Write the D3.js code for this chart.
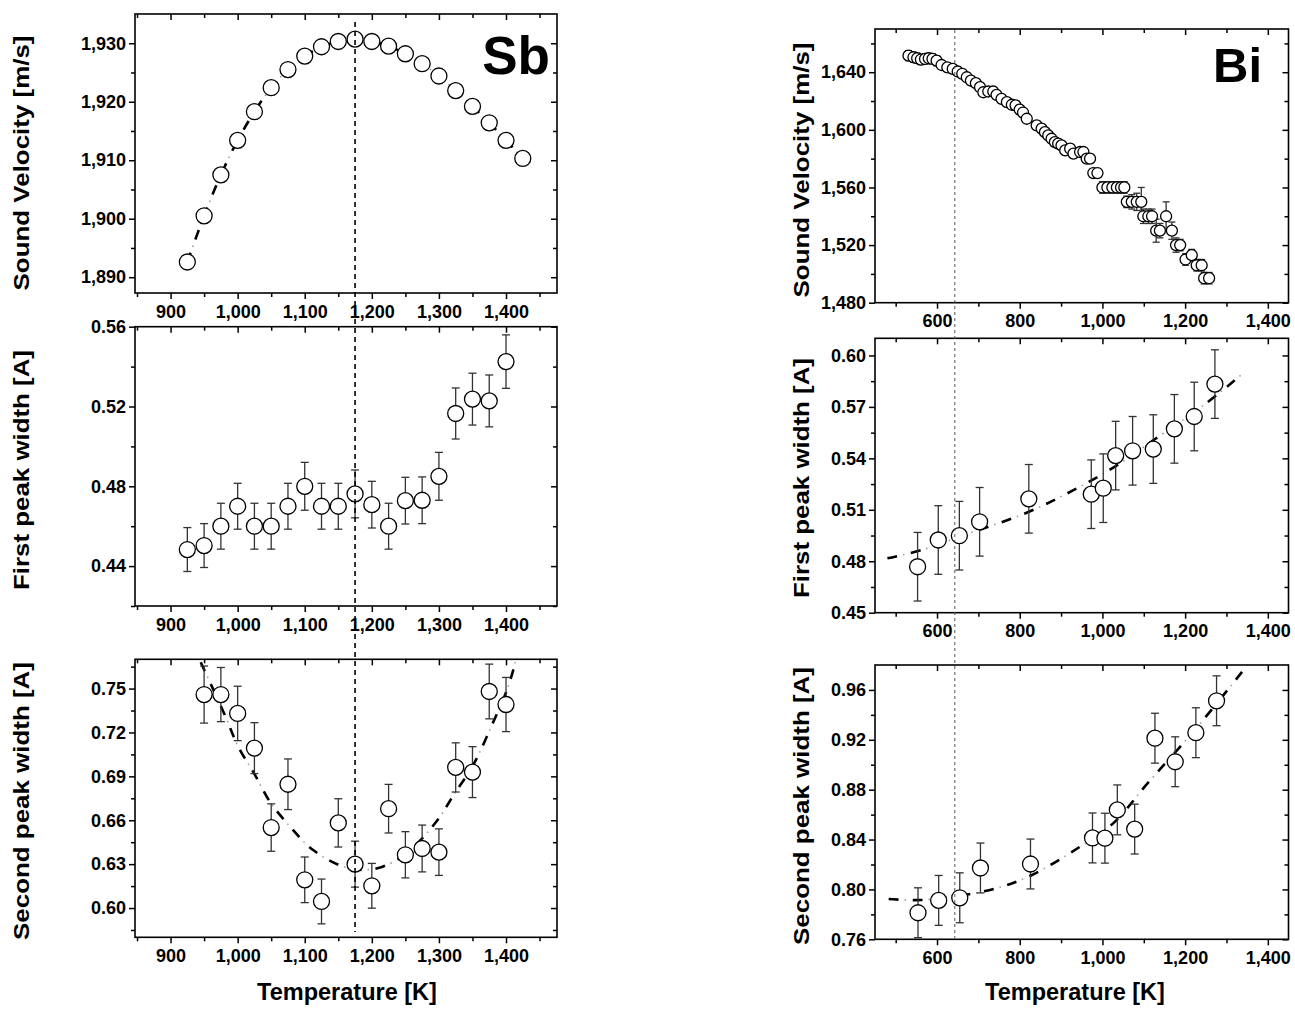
<!DOCTYPE html>
<html>
<head>
<meta charset="utf-8">
<script src="https://cdn.jsdelivr.net/npm/d3@7"></script>
<style>
body { margin: 0; background: #fff; }
text { font-family: "Liberation Sans", Arial, Helvetica, sans-serif; font-weight: bold; }
</style>
</head>
<body>
<div id="vis"></div>
<script>
// ---- Sb data ----
var sbVelT = [925, 950, 975, 1000, 1025, 1050, 1075, 1100, 1125, 1150, 1175, 1200, 1225, 1250, 1275, 1300, 1325, 1350, 1375, 1400, 1425];
var sbVel  = [1892.6, 1900.5, 1907.5, 1913.4, 1918.3, 1922.4, 1925.5, 1927.8, 1929.4, 1930.3, 1930.7, 1930.3, 1929.5, 1928.2, 1926.5, 1924.4, 1921.9, 1919.2, 1916.4, 1913.4, 1910.3];

var sbFirstT   = [925, 950, 975, 1000, 1025, 1050, 1075, 1100, 1125, 1150, 1175, 1200, 1225, 1250, 1275, 1300, 1325, 1350, 1375, 1400];
var sbFirst    = [0.4483, 0.4503, 0.460, 0.470, 0.460, 0.460, 0.470, 0.480, 0.470, 0.470, 0.4762, 0.4708, 0.460, 0.4728, 0.473, 0.485, 0.5165, 0.5237, 0.5228, 0.5425];
var sbFirstErr = [0.011, 0.011, 0.0115, 0.0115, 0.0115, 0.0115, 0.0115, 0.012, 0.0115, 0.0115, 0.012, 0.0117, 0.0115, 0.0117, 0.0117, 0.012, 0.0128, 0.013, 0.013, 0.0134];

var sbSecondT   = [950, 975, 1000, 1025, 1050, 1075, 1100, 1125, 1150, 1175, 1200, 1225, 1250, 1275, 1300, 1325, 1350, 1375, 1400];
var sbSecond    = [0.7459, 0.7459, 0.733, 0.7093, 0.655, 0.6846, 0.6193, 0.6045, 0.6582, 0.630, 0.6152, 0.6679, 0.6364, 0.6407, 0.6382, 0.6961, 0.6929, 0.748, 0.7391];
var sbSecondErr = [0.0195, 0.0185, 0.0186, 0.0174, 0.0162, 0.0173, 0.0156, 0.0153, 0.0165, 0.0157, 0.0153, 0.0166, 0.0158, 0.016, 0.0159, 0.0168, 0.0174, 0.0187, 0.0185];
var sbSecondFitT = [945, 981, 1001, 1026, 1048, 1078, 1112, 1157, 1187, 1217, 1252, 1296, 1323, 1351, 1380, 1403, 1415];
var sbSecondFit  = [0.768, 0.7318, 0.7102, 0.6909, 0.6727, 0.6557, 0.6398, 0.6284, 0.6261, 0.6284, 0.6375, 0.659, 0.678, 0.6977, 0.7261, 0.751, 0.77];

var sbMarkT = 1175;

// ---- Bi data ----
var biVelT = [531, 543, 552, 561, 571, 580, 589, 599, 611, 625, 638, 650, 661, 672, 682, 694, 704, 712, 724, 736,
              744, 756, 769, 781, 790, 800, 808, 817, 841, 853, 861, 869, 877, 885, 893, 901, 910, 922, 930, 946,
              954, 962, 970, 978, 988, 1000, 1012, 1024, 1035, 1045, 1053, 1059, 1071, 1083, 1094, 1099, 1111, 1120, 1130, 1139,
              1154, 1168, 1178, 1188, 1201, 1216, 1228, 1240, 1246, 1258];
var biVel  = [1651.5, 1650.4, 1649.7, 1648.8, 1649.2, 1649.7, 1649.2, 1648, 1645, 1643.4, 1642.3, 1640.5, 1638.9, 1636.5, 1634.2, 1632.4, 1629.6, 1626.1, 1626.6, 1626.6,
              1624.3, 1621.5, 1619.2, 1617.4, 1617, 1614, 1612, 1607.7, 1603.1, 1600.8, 1598.4, 1596.1, 1593.8, 1591.5, 1590.4, 1589.2, 1585.7, 1586.9, 1583.5, 1584.6,
              1584.6, 1580, 1580, 1570, 1570, 1560, 1560, 1560, 1560, 1560, 1560, 1550, 1550, 1550, 1550, 1540, 1540, 1540, 1530, 1530,
              1540, 1530, 1520, 1520, 1510, 1513, 1506, 1506, 1497, 1497];
var biVelErr = [3.5, 3.5, 3.5, 3.5, 3.5, 3.5, 3.5, 3.5, 3, 3, 3, 3, 3, 3, 3, 3, 3, 3, 3, 3,
                3, 3, 3, 3, 3, 3, 3, 3, 3, 3, 3, 3, 3, 3, 3, 3, 3, 3, 3, 3,
                3, 3, 3, 3, 3, 4, 4, 4, 4, 4, 4, 4, 5, 6, 10, 5, 5, 5, 8, 5,
                10, 6, 5, 4, 4, 4, 4, 4, 4, 4];

var biFirstT   = [553, 603, 654, 703, 822, 973, 1002, 1032, 1073, 1123, 1174, 1222, 1272];
var biFirst    = [0.4768, 0.4924, 0.4949, 0.503, 0.5164, 0.5191, 0.5226, 0.5416, 0.5444, 0.5454, 0.5572, 0.5644, 0.5833];
var biFirstErr = [0.02, 0.02, 0.02, 0.02, 0.02, 0.02, 0.02, 0.02, 0.02, 0.02, 0.02, 0.02, 0.02];
var biFirstFitT = [480, 564, 673, 814, 931, 1044, 1121, 1246, 1339];
var biFirstFit  = [0.4817, 0.4866, 0.4959, 0.508, 0.5216, 0.5372, 0.5502, 0.5712, 0.5893];

var biSecondT   = [554, 604, 655, 705, 826, 976, 1006, 1036, 1078, 1127, 1176, 1226, 1276];
var biSecond    = [0.7813, 0.7912, 0.7933, 0.8172, 0.8204, 0.8413, 0.8411, 0.8638, 0.8484, 0.9213, 0.9024, 0.9257, 0.9513];
var biSecondErr = [0.02, 0.02, 0.02, 0.02, 0.02, 0.02, 0.02, 0.02, 0.02, 0.02, 0.02, 0.02, 0.02];
var biSecondFitT = [483, 560, 656, 744, 826, 947, 1026, 1109, 1230, 1338];
var biSecondFit  = [0.7923, 0.7915, 0.795, 0.801, 0.811, 0.8345, 0.853, 0.885, 0.9305, 0.9746];

var biMarkT = 643;

// ---- tick values ----
var sbXMajor = [900, 1000, 1100, 1200, 1300, 1400];
var sbXMinor = [850, 950, 1050, 1150, 1250, 1350, 1450];
var biXMajor = [600, 800, 1000, 1200, 1400];
var biXMinor = [500, 700, 900, 1100, 1300];

var svg = d3.select("#vis").append("svg")
    .attr("width", 1295)
    .attr("height", 1011);

var fmtComma = d3.format(",");
var fmt2 = d3.format(".2f");

function zip(a, b, e) {
  return a.map(function(t, i) { return {t: t, v: b[i], e: e ? e[i] : 0}; });
}

// one framed plot with origin style ticks (out on bottom/left, mirrored in on top/right)
function drawPanel(p) {
  var x = d3.scaleLinear().domain(p.xDomain).range([p.left, p.right]);
  var y = d3.scaleLinear().domain(p.yDomain).range([p.bottom, p.top]);
  var g = svg.append("g");

  function axis(gen, scale, vals, size, fmt, tx, ty, pad) {
    var a = g.append("g")
        .attr("transform", "translate(" + tx + "," + ty + ")")
        .call(gen(scale).tickValues(vals).tickSize(size).tickPadding(pad || 3).tickFormat(fmt || ""));
    a.select(".domain").remove();
    a.selectAll("line").attr("stroke", "#000").attr("stroke-width", 1.5);
    a.selectAll("text").attr("font-size", 18).attr("font-family", null).attr("fill", "#000");
    return a;
  }

  axis(d3.axisBottom, x, p.xMajor, 6, fmtComma, 0, p.bottom, 6);
  axis(d3.axisBottom, x, p.xMinor, 4, null, 0, p.bottom);
  axis(d3.axisTop, x, p.xMajor, -6, null, 0, p.top);
  axis(d3.axisTop, x, p.xMinor, -4, null, 0, p.top);
  axis(d3.axisLeft, y, p.yMajor, 6, p.yFmt, p.left, 0, 3);
  axis(d3.axisLeft, y, p.yMinor, 4, null, p.left, 0);
  axis(d3.axisRight, y, p.yMajor, -6, null, p.right, 0);
  axis(d3.axisRight, y, p.yMinor, -4, null, p.right, 0);

  g.append("rect")
      .attr("x", p.left).attr("y", p.top)
      .attr("width", p.right - p.left).attr("height", p.bottom - p.top)
      .attr("fill", "none").attr("stroke", "#000").attr("stroke-width", 1.6);

  var clip = "clip" + p.id;
  g.append("clipPath").attr("id", clip)
    .append("rect").attr("x", p.left).attr("y", p.top)
      .attr("width", p.right - p.left).attr("height", p.bottom - p.top);

  // fit line (dash + grey dot)
  if (p.fit) {
    var line = d3.line()
        .x(function(d) { return x(d.t); })
        .y(function(d) { return y(d.v); })
        .curve(d3.curveCatmullRom);
    g.append("path").datum(p.fit)
        .attr("clip-path", "url(#" + clip + ")")
        .attr("fill", "none").attr("stroke", "#000")
        .attr("stroke-width", 2.6).attr("stroke-dasharray", "10,14")
        .attr("d", line);
    g.append("path").datum(p.fit)
        .attr("clip-path", "url(#" + clip + ")")
        .attr("fill", "none").attr("stroke", "#999")
        .attr("stroke-width", 1.5).attr("stroke-dasharray", "1.5,22.5")
        .attr("stroke-dashoffset", -16)
        .attr("d", line);
  }

  // error bars
  var eb = g.append("g").attr("stroke", "#333").attr("stroke-width", 1.3);
  var withErr = p.data.filter(function(d) { return d.e > 0; });
  eb.selectAll(".v").data(withErr).enter().append("line")
      .attr("x1", function(d) { return x(d.t); }).attr("x2", function(d) { return x(d.t); })
      .attr("y1", function(d) { return y(d.v - d.e); }).attr("y2", function(d) { return y(d.v + d.e); });
  [-1, 1].forEach(function(s) {
    eb.selectAll(".c" + s).data(withErr).enter().append("line")
        .attr("x1", function(d) { return x(d.t) - p.cap; }).attr("x2", function(d) { return x(d.t) + p.cap; })
        .attr("y1", function(d) { return y(d.v + s * d.e); }).attr("y2", function(d) { return y(d.v + s * d.e); });
  });

  g.selectAll("circle").data(p.data).enter().append("circle")
      .attr("cx", function(d) { return x(d.t); })
      .attr("cy", function(d) { return y(d.v); })
      .attr("r", p.r)
      .attr("fill", "#fff").attr("stroke", "#000").attr("stroke-width", 1.3);

  // y title, glyphs stretched along the axis like the original
  var title = svg.append("text")
      .attr("text-anchor", "middle")
      .attr("font-size", 22.5)
      .text(p.yTitle);
  var natural = title.node().getComputedTextLength();
  title.attr("transform", "translate(" + p.titleX + "," + p.titleY + ")rotate(-90)scale(" +
      (p.titleLen / natural) + ",1)");

  return x;
}

// ---- Sb column ----
var sbCommon = {left: 135, right: 557, xDomain: [847, 1476], xMajor: sbXMajor, xMinor: sbXMinor, titleX: 29};
var sbX = drawPanel(Object.assign({}, sbCommon, {
  id: "sb1", top: 14, bottom: 293, yDomain: [1887.3, 1935],
  yMajor: [1890, 1900, 1910, 1920, 1930], yMinor: [1895, 1905, 1915, 1925], yFmt: fmtComma,
  data: zip(sbVelT, sbVel), fit: zip(sbVelT, sbVel), r: 8, cap: 4,
  yTitle: "Sound Velocity [m/s]", titleY: 163, titleLen: 255
}));
drawPanel(Object.assign({}, sbCommon, {
  id: "sb2", top: 326.7, bottom: 606, yDomain: [0.42, 0.56],
  yMajor: [0.44, 0.48, 0.52, 0.56], yMinor: [0.42, 0.46, 0.50, 0.54], yFmt: fmt2,
  data: zip(sbFirstT, sbFirst, sbFirstErr), r: 8, cap: 4,
  yTitle: "First peak width [A]", titleY: 470, titleLen: 240
}));
drawPanel(Object.assign({}, sbCommon, {
  id: "sb3", top: 659.3, bottom: 937.3, yDomain: [0.58, 0.77],
  yMajor: [0.60, 0.63, 0.66, 0.69, 0.72, 0.75], yMinor: [0.585, 0.615, 0.645, 0.675, 0.705, 0.735, 0.765], yFmt: fmt2,
  data: zip(sbSecondT, sbSecond, sbSecondErr), fit: zip(sbSecondFitT, sbSecondFit), r: 8, cap: 4,
  yTitle: "Second peak width [A]", titleY: 801, titleLen: 278
}));

// ---- Bi column ----
var biCommon = {left: 875, right: 1288.5, xDomain: [450, 1450], xMajor: biXMajor, xMinor: biXMinor, titleX: 809};
var biX = drawPanel(Object.assign({}, biCommon, {
  id: "bi1", top: 29, bottom: 302.7, yDomain: [1480, 1670],
  yMajor: [1480, 1520, 1560, 1600, 1640], yMinor: [1500, 1540, 1580, 1620, 1660], yFmt: fmtComma,
  data: zip(biVelT, biVel, biVelErr), r: 5.5, cap: 3.5,
  yTitle: "Sound Velocity [m/s]", titleY: 170, titleLen: 255
}));
drawPanel(Object.assign({}, biCommon, {
  id: "bi2", top: 338.3, bottom: 612.7, yDomain: [0.45, 0.61],
  yMajor: [0.45, 0.48, 0.51, 0.54, 0.57, 0.60], yMinor: [0.465, 0.495, 0.525, 0.555, 0.585], yFmt: fmt2,
  data: zip(biFirstT, biFirst, biFirstErr), fit: zip(biFirstFitT, biFirstFit), r: 8, cap: 4,
  yTitle: "First peak width [A]", titleY: 478, titleLen: 240
}));
drawPanel(Object.assign({}, biCommon, {
  id: "bi3", top: 665, bottom: 939.3, yDomain: [0.76, 0.98],
  yMajor: [0.76, 0.80, 0.84, 0.88, 0.92, 0.96], yMinor: [0.78, 0.82, 0.86, 0.90, 0.94], yFmt: fmt2,
  data: zip(biSecondT, biSecond, biSecondErr), fit: zip(biSecondFitT, biSecondFit), r: 8, cap: 4,
  yTitle: "Second peak width [A]", titleY: 806, titleLen: 278
}));

// vertical transition markers spanning the three panels
svg.append("line")
    .attr("x1", sbX(sbMarkT)).attr("x2", sbX(sbMarkT))
    .attr("y1", 22).attr("y2", 932)
    .attr("stroke", "#000").attr("stroke-width", 1.6).attr("stroke-dasharray", "5,4");
svg.append("line")
    .attr("x1", biX(biMarkT)).attr("x2", biX(biMarkT))
    .attr("y1", 30).attr("y2", 938)
    .attr("stroke", "#555").attr("stroke-width", 1).attr("stroke-dasharray", "3,3");

// x titles
svg.append("text").attr("x", 347).attr("y", 1000).attr("text-anchor", "middle")
    .attr("font-size", 23.5).text("Temperature [K]");
svg.append("text").attr("x", 1075).attr("y", 1000).attr("text-anchor", "middle")
    .attr("font-size", 23.5).text("Temperature [K]");

// element labels
svg.append("text").attr("x", 550).attr("y", 74).attr("text-anchor", "end")
    .attr("font-size", 53).text("Sb");
svg.append("text").attr("x", 1213).attr("y", 81.5).attr("text-anchor", "start")
    .attr("font-size", 49).text("Bi");
</script>
</body>
</html>
